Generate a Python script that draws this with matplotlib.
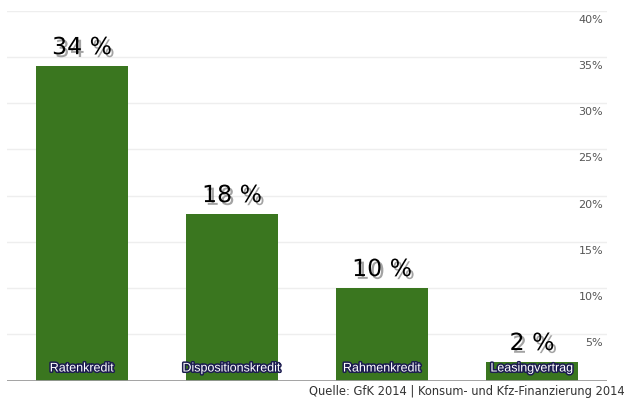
import matplotlib
matplotlib.use("Agg")
import matplotlib.pyplot as plt
import matplotlib.patheffects as pe

# Daten
kategorien = ["Ratenkredit", "Dispositionskredit", "Rahmenkredit", "Leasingvertrag"]
werte = [34, 18, 10, 2]
wert_labels = ["34 %", "18 %", "10 %", "2 %"]
y_ticks = [5, 10, 15, 20, 25, 30, 35, 40]
quelle = "Quelle: GfK 2014 | Konsum- und Kfz-Finanzierung 2014"

fig = plt.figure(figsize=(6.3, 4), dpi=100)
ax = fig.add_axes([7 / 630, 19.5 / 400, 600 / 630, 369.8 / 400])

x = range(len(kategorien))
ax.bar(x, werte, width=0.615, color="#3a761f", zorder=2)
ax.set_xlim(-0.5, 3.5)
ax.set_ylim(0, 40)

# Gitterlinien
for t in y_ticks:
    ax.axhline(t, color="#eeeeee", lw=1, zorder=0)
ax.axhline(0, color="#9a9a9a", lw=2, zorder=3)

for s in ax.spines.values():
    s.set_visible(False)
ax.set_xticks([])
ax.set_yticks([])

# Achsenbeschriftung rechts, unter den Linien
for t in y_ticks:
    ax.annotate(f"{t}%", xy=(1, t), xycoords=("axes fraction", "data"),
                xytext=(-4, -9), textcoords="offset pixels",
                ha="right", va="center", fontsize=8, color="#555555",
                family="DejaVu Sans")

for i, (w, lab) in enumerate(zip(werte, wert_labels)):
    ax.annotate(lab, xy=(i, w), xytext=(0, 7), textcoords="offset pixels",
                ha="center", va="bottom", fontsize=17, color="black",
                family="DejaVu Sans",
                path_effects=[pe.withSimplePatchShadow(offset=(2, -2),
                                                       shadow_rgbFace="#666666",
                                                       alpha=0.6)])
    ax.annotate(kategorien[i], xy=(i, 0), xytext=(0, 12), textcoords="offset pixels",
                ha="center", va="center", fontsize=9, color="white",
                family="Liberation Sans",
                path_effects=[pe.withStroke(linewidth=2.2, foreground="#1c1c50")],
                zorder=4)

fig.text(625 / 630, 1 - 391 / 400, quelle, ha="right", va="center",
         fontsize=8.3, color="#333333", family="DejaVu Sans")

fig.savefig("out.png", dpi=100)
